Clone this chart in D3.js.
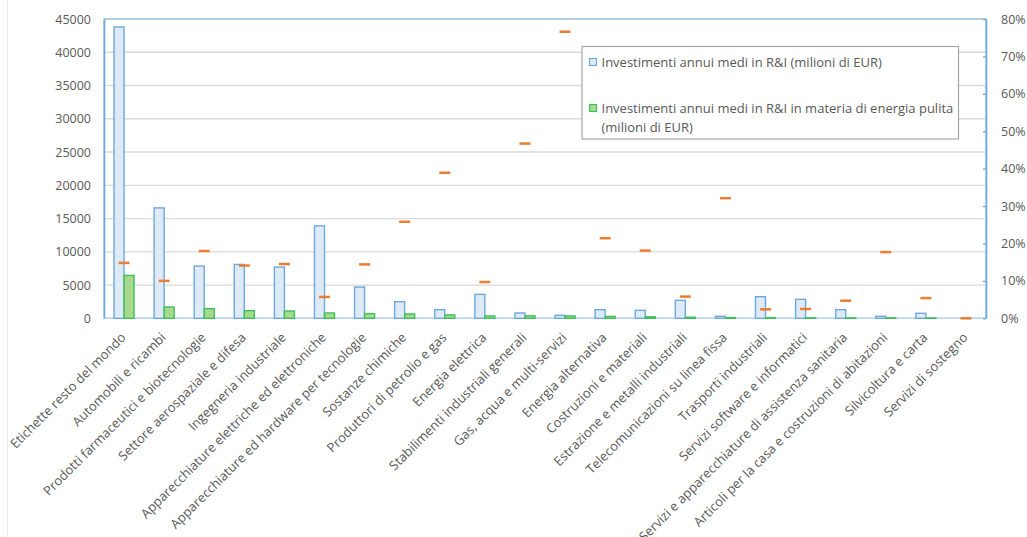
<!DOCTYPE html>
<html>
<head>
<meta charset="utf-8">
<script src="https://cdn.jsdelivr.net/npm/d3@7"></script>
<style>
  html, body { margin: 0; padding: 0; background: #fff; }
  svg { display: block; }
  text { font-family: "Open Sans", sans-serif; fill: #595959; }
</style>
</head>
<body>
<svg id="chart" width="1027" height="537"></svg>
<script>
const categories = [
  "Etichette resto del mondo",
  "Automobili e ricambi",
  "Prodotti farmaceutici e biotecnologie",
  "Settore aerospaziale e difesa",
  "Ingegneria industriale",
  "Apparecchiature elettriche ed elettroniche",
  "Apparecchiature ed hardware per tecnologie",
  "Sostanze chimiche",
  "Produttori di petrolio e gas",
  "Energia elettrica",
  "Stabilimenti industriali generali",
  "Gas, acqua e multi-servizi",
  "Energia alternativa",
  "Costruzioni e materiali",
  "Estrazione e metalli industriali",
  "Telecomunicazioni su linea fissa",
  "Trasporti industriali",
  "Servizi software e informatici",
  "Servizi e apparecchiature di assistenza sanitaria",
  "Articoli per la casa e costruzioni di abitazioni",
  "Silvicoltura e carta",
  "Servizi di sostegno"
];
// Investimenti annui medi in R&I (milioni di EUR)
const rdiValues = [43800, 16600, 7850, 8100, 7700, 13900, 4700, 2500, 1300, 3600, 800, 450, 1300, 1200, 2700, 300, 3250, 2850, 1300, 300, 750, 0];
// Investimenti annui medi in R&I in materia di energia pulita (milioni di EUR)
const cleanValues = [6450, 1700, 1450, 1150, 1100, 800, 700, 650, 500, 350, 370, 350, 280, 220, 160, 100, 80, 70, 60, 55, 40, 0];
// Quota energia pulita (asse destro, %)
const shareValues = [14.8, 10.0, 18.0, 14.1, 14.5, 5.7, 14.4, 25.8, 38.9, 9.7, 46.7, 76.6, 21.4, 18.1, 5.8, 32.1, 2.4, 2.5, 4.7, 17.7, 5.4, 0];

const leftTicks = [0, 5000, 10000, 15000, 20000, 25000, 30000, 35000, 40000, 45000];
const rightTicks = [0, 10, 20, 30, 40, 50, 60, 70, 80];
const legendLabels = [
  ["Investimenti annui medi in R&I (milioni di EUR)"],
  ["Investimenti annui medi in R&I in materia di energia pulita", "(milioni di EUR)"]
];

const svg = d3.select("#chart");
const L = 104, R = 986, T = 19, B = 318.3;

const x = d3.scaleBand().domain(categories).range([L, R]).padding(0);
const x1 = d3.scaleBand().domain(["rdi", "clean"]).range([0, x.bandwidth()]).paddingInner(0).paddingOuter(1);
const yL = d3.scaleLinear().domain([0, 45000]).range([B, T]);
const yR = d3.scaleLinear().domain([0, 80]).range([B, T]);

// faint chart frame
svg.append("line").attr("x1", 7.5).attr("x2", 7.5).attr("y1", 0).attr("y2", 537)
  .attr("stroke", "#ececec").attr("stroke-width", 1);

// gridlines
svg.append("g").selectAll("line").data(leftTicks.filter(d => d > 0)).join("line")
  .attr("x1", L).attr("x2", R)
  .attr("y1", d => yL(d)).attr("y2", d => yL(d))
  .attr("stroke", "#d9d9d9").attr("stroke-width", 1.3);

// plot border
svg.append("rect").attr("x", L).attr("y", T).attr("width", R - L).attr("height", B - T)
  .attr("fill", "none").attr("stroke", "#9dc3e6").attr("stroke-width", 1.3);

// bottom axis line
svg.append("line").attr("x1", L).attr("x2", R).attr("y1", B).attr("y2", B)
  .attr("stroke", "#bdd7ee").attr("stroke-width", 1.5);

// bars
const bars = svg.append("g");
const seriesStyle = {
  rdi: { fill: "#deebf7", stroke: "#6fa8dc" },
  clean: { fill: "#a9d98e", stroke: "#3cc15a" }
};
categories.forEach((c, i) => {
  const vals = [["rdi", rdiValues[i]], ["clean", cleanValues[i]]];
  vals.forEach(([k, v]) => {
    if (v <= 0) return;
    bars.append("rect")
      .attr("x", x(c) + x1(k))
      .attr("y", yL(v))
      .attr("width", x1.bandwidth())
      .attr("height", yL(0) - yL(v))
      .attr("fill", seriesStyle[k].fill)
      .attr("stroke", seriesStyle[k].stroke)
      .attr("stroke-width", 1.4);
  });
});

// left axis
const gl = svg.append("g").attr("transform", `translate(${L},0)`)
  .call(d3.axisLeft(yL).tickValues(leftTicks).tickSize(0).tickPadding(13).tickFormat(d3.format("d")));
gl.select(".domain").attr("stroke", "#6fa8dc").attr("stroke-width", 1.6);
gl.selectAll("text").style("font-size", "12.5px").attr("fill", "#595959");

// right axis
const gr = svg.append("g").attr("transform", `translate(${R},0)`)
  .call(d3.axisRight(yR).tickValues(rightTicks).tickSize(0).tickPadding(15).tickFormat(d => d + "%"));
gr.select(".domain").attr("stroke", "#6fa8dc").attr("stroke-width", 1.6);
gr.selectAll("text").style("font-size", "12.5px").attr("fill", "#595959");
gr.selectAll(".tick").append("line").attr("x1", -3).attr("x2", 0).attr("stroke", "#6fa8dc").attr("stroke-width", 1.3);

// orange dash markers (right axis)
svg.append("g").selectAll("rect").data(categories).join("rect")
  .attr("x", d => x(d) + x.bandwidth() / 2 - 5.5)
  .attr("y", (d, i) => yR(shareValues[i]) - 1.25)
  .attr("width", 11).attr("height", 2.5)
  .attr("fill", "#ed7d31");

// x labels
svg.append("g").selectAll("text").data(categories).join("text")
  .attr("transform", d => `translate(${x(d) + x.bandwidth() / 2 + 2.5},${B + 20}) rotate(-45)`)
  .attr("text-anchor", "end")
  .style("font-size", "13px")
  .text(d => d);

// legend
const lg = svg.append("g");
lg.append("rect").attr("x", 582).attr("y", 46.5).attr("width", 376.5).attr("height", 92.5)
  .attr("fill", "#fff").attr("stroke", "#a6a6a6").attr("stroke-width", 1.2);
const legendY = [62, 108];
["rdi", "clean"].forEach((k, i) => {
  lg.append("rect").attr("x", 589.5).attr("y", legendY[i] - 3.5).attr("width", 7).attr("height", 7)
    .attr("fill", seriesStyle[k].fill).attr("stroke", seriesStyle[k].stroke).attr("stroke-width", 1.2);
  legendLabels[i].forEach((line, j) => {
    lg.append("text").attr("x", 601.5).attr("y", legendY[i] + j * 19).attr("dy", "0.35em")
      .style("font-size", "13px").text(line);
  });
});
</script>
</body>
</html>
